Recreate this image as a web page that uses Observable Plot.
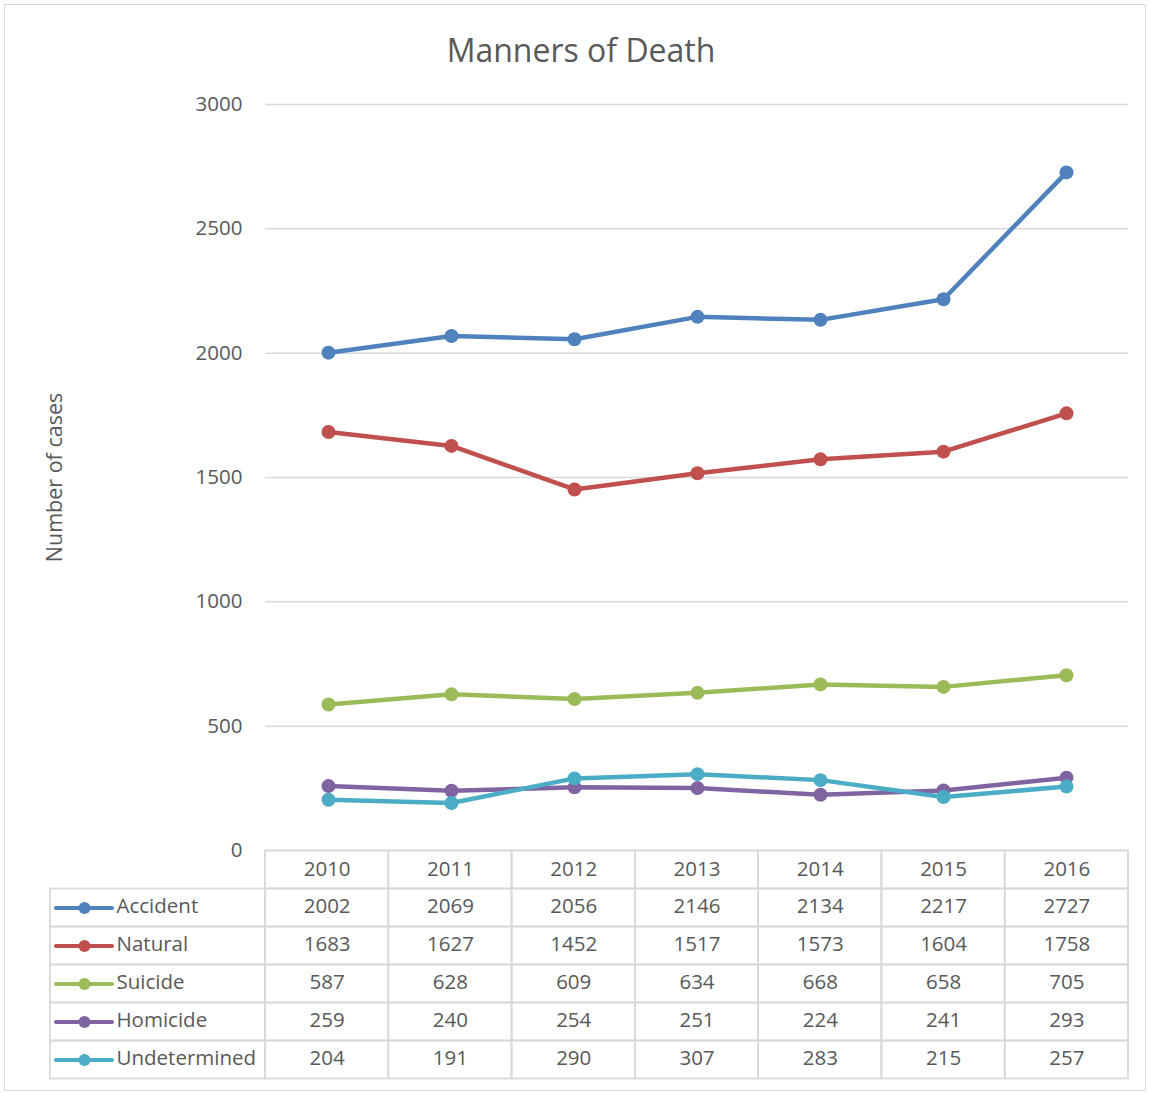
<!DOCTYPE html>
<html>
<head>
<meta charset="utf-8">
<script src="https://cdn.jsdelivr.net/npm/d3@7"></script>
<script src="https://cdn.jsdelivr.net/npm/@observablehq/plot@0.6"></script>
<style>
  html, body { margin: 0; padding: 0; background: #fff; }
  #wrap { position: relative; width: 1151px; height: 1093px; overflow: hidden; background: #fff; }
  #border { position: absolute; left: 4px; top: 4px; width: 1140px; height: 1085px; border: 1.5px solid #d9d9d9; }
  #wrap svg { position: absolute; left: 0; top: 0; }
</style>
</head>
<body>
<div id="wrap"><div id="border"></div></div>
<script>
// ---- data ----
const years = ["2010", "2011", "2012", "2013", "2014", "2015", "2016"];
const seriesNames = ["Accident", "Natural", "Suicide", "Homicide", "Undetermined"];
const accident = [2002, 2069, 2056, 2146, 2134, 2217, 2727];
const natural = [1683, 1627, 1452, 1517, 1573, 1604, 1758];
const suicide = [587, 628, 609, 634, 668, 658, 705];
const homicide = [259, 240, 254, 251, 224, 241, 293];
const undetermined = [204, 191, 290, 307, 283, 215, 257];
const colors = ["#4f81bd", "#c0504d", "#9bbb59", "#8064a2", "#4bacc6"];
const yTicks = [0, 500, 1000, 1500, 2000, 2500, 3000];
const title = "Manners of Death";
const yLabel = "Number of cases";

const valuesBySeries = [accident, natural, suicide, homicide, undetermined];
const long = [];
seriesNames.forEach((s, si) => years.forEach((y, i) => long.push({series: s, si, year: y, yi: i, value: valuesBySeries[si][i]})));

const FONT = "'Open Sans', sans-serif";
const TXT = "#595959";
const GRID = "#d9d9d9";
const W = 1151, H = 1093;

// ---- chart ----
const chart = Plot.plot({
  width: W, height: H,
  marginTop: 104, marginBottom: 243, marginLeft: 265, marginRight: 23,
  style: {background: "transparent", fontFamily: FONT, color: TXT, fontSize: "20.5px", overflow: "visible"},
  x: {type: "point", domain: years, padding: 0.5, axis: null},
  y: {domain: [0, 3000], axis: null},
  color: {domain: seriesNames, range: colors},
  marks: [
    Plot.gridY(yTicks, {stroke: GRID, strokeOpacity: 1, strokeWidth: 1.5}),
    Plot.axisY(yTicks, {tickSize: 0, tickPadding: 23, fontSize: 20.5, fill: TXT, label: null, tickFormat: d => String(d)}),
    Plot.line(long, {x: "year", y: "value", z: "series", stroke: "series", strokeWidth: 4.5, strokeLinejoin: "round", strokeLinecap: "round"}),
    Plot.dot(long, {x: "year", y: "value", fill: "series", r: 7}),
    Plot.text([title], {text: d => d, frameAnchor: "top", textAnchor: "middle", dx: -116, dy: -65, fontSize: 32, fill: TXT}),
    Plot.text([yLabel], {text: d => d, frameAnchor: "left", textAnchor: "middle", dx: -210, rotate: -90, fontSize: 21.5, fill: TXT})
  ]
});

// ---- data table ----
const LEGW = 215 / ((1128 - 265) / 7); // legend column width in column units
const colPx = (1128 - 265) / 7;
const cells = [];
years.forEach((y, i) => cells.push({x1: i, x2: i + 1, y1: 0, y2: 1}));
seriesNames.forEach((s, si) => {
  cells.push({x1: -LEGW, x2: 0, y1: si + 1, y2: si + 2});
  years.forEach((y, i) => cells.push({x1: i, x2: i + 1, y1: si + 1, y2: si + 2}));
});

const table = Plot.plot({
  width: W, height: H,
  marginTop: 850.5, marginBottom: 14.5, marginLeft: 50, marginRight: 23,
  style: {background: "transparent", fontFamily: FONT, color: TXT, fontSize: "20.5px"},
  x: {type: "linear", domain: [-LEGW, 7], axis: null},
  y: {type: "linear", domain: [0, 6], reverse: true, axis: null},
  color: {domain: seriesNames, range: colors},
  marks: [
    Plot.rect(cells, {x1: "x1", x2: "x2", y1: "y1", y2: "y2", fill: "none", stroke: GRID, strokeWidth: 1.8}),
    Plot.text(years, {x: (d, i) => i + 0.5, y: 0.5, text: d => d, fontSize: 20.5, fill: TXT, dy: -1}),
    Plot.text(long, {x: d => d.yi + 0.5, y: d => d.si + 1.5, text: d => String(d.value), fontSize: 20.5, fill: TXT, dy: -1.5}),
    Plot.ruleY(seriesNames, {y: (d, i) => i + 1.5, x1: -LEGW + 6 / colPx, x2: -LEGW + 62 / colPx, stroke: d => d, strokeWidth: 4, strokeLinecap: "round"}),
    Plot.dot(seriesNames, {x: -LEGW + 34 / colPx, y: (d, i) => i + 1.5, fill: d => d, r: 6}),
    Plot.text(seriesNames, {x: -LEGW + 66 / colPx, y: (d, i) => i + 1.5, text: d => d, textAnchor: "start", fontSize: 20.5, fill: TXT, dy: -1.5})
  ]
});

const wrap = document.getElementById("wrap");
wrap.appendChild(chart);
wrap.appendChild(table);
</script>
</body>
</html>
